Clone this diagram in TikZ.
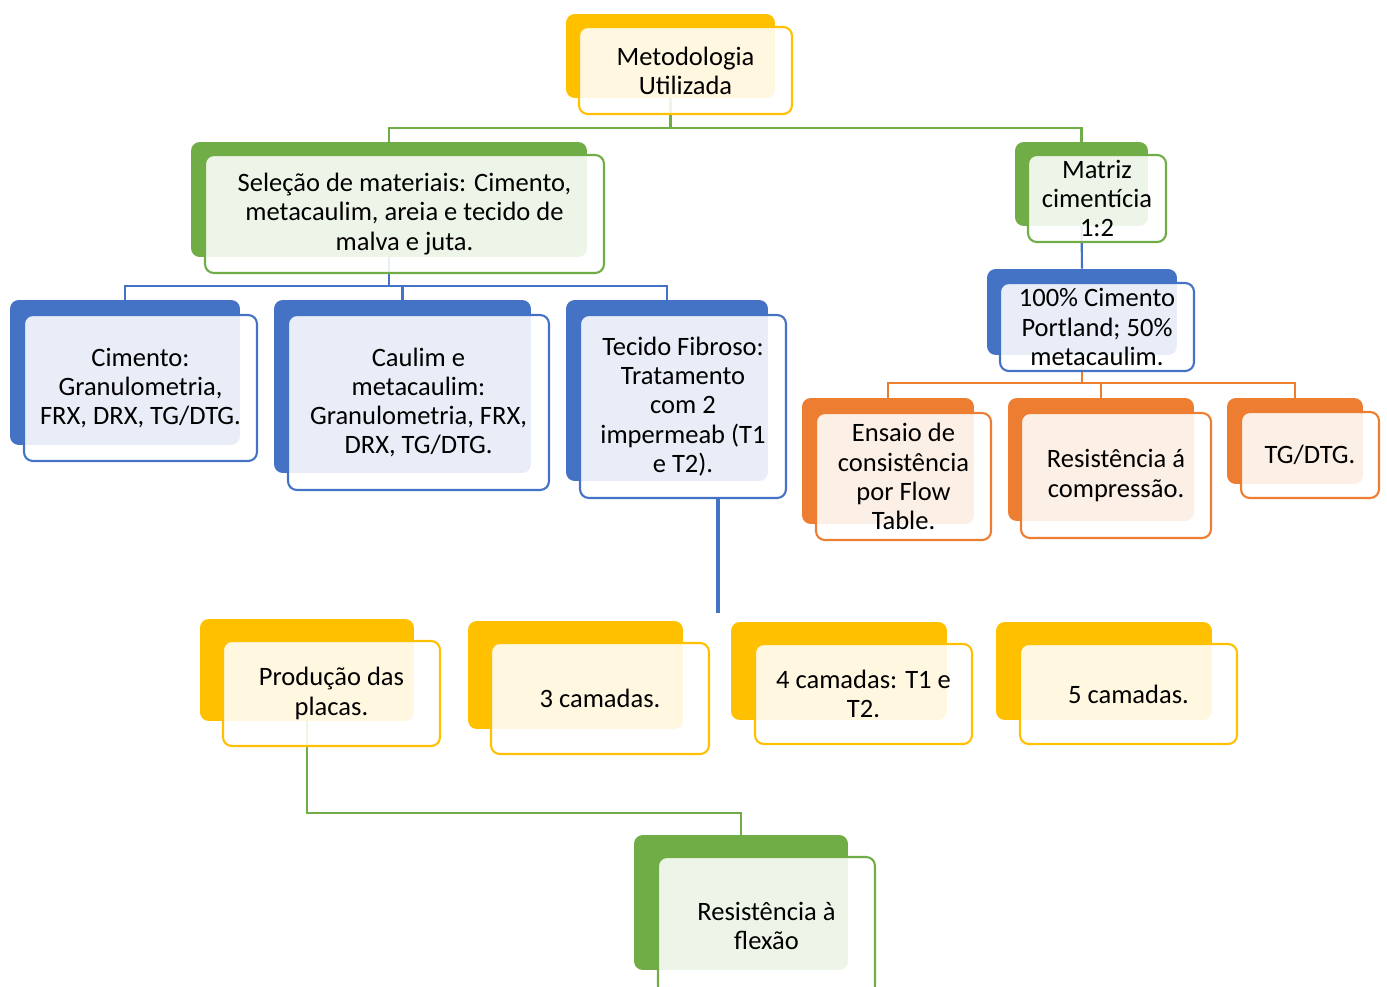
\documentclass[tikz,border=0pt]{standalone}
\usepackage{fontspec}
\setmainfont{Carlito}
\usepackage{tikz}
\usetikzlibrary{backgrounds}

\definecolor{ouro}{HTML}{FFC000}
\definecolor{verde}{HTML}{70AD47}
\definecolor{azul}{HTML}{4472C4}
\definecolor{laranja}{HTML}{ED7D31}

\begin{document}
\begin{tikzpicture}[
    x=0.02cm, y=-0.02cm,
    fundo/.style={fill=#1, rounded corners=5pt, inner sep=0pt},
    frente/.style={draw=#1, line width=1.2pt, fill=white, fill opacity=0.88,
                   text opacity=1, rounded corners=5pt, inner sep=0pt, align=center,
                   font=\fontsize{15.1}{16.6}\selectfont},
    liga/.style={draw=#1, line width=1.2pt}
  ]
    \useasboundingbox (0,0) rectangle (1387,987);

    % nivel 1
    \node[fundo=ouro, minimum width=4.18cm, minimum height=1.68cm] (metB) at (670.5,56) {};
    \node[frente=ouro, minimum width=4.26cm, minimum height=1.74cm] (metF) at (685.5,70.5)
      {Metodologia\\Utilizada};

    % nivel 2
    \node[fundo=verde, minimum width=7.92cm, minimum height=2.30cm] (selB) at (389,199.5) {};
    \node[frente=verde, minimum width=7.98cm, minimum height=2.36cm] (selF) at (404.5,214)
      {Seleção de materiais: Cimento,\\metacaulim, areia e tecido de\\malva e juta.};
    \node[fundo=verde, minimum width=2.66cm, minimum height=1.68cm] (matB) at (1081.5,184) {};
    \node[frente=verde, minimum width=2.76cm, minimum height=1.74cm] (matF) at (1097,198.5)
      {Matriz\\cimentícia\\1:2};

    % materiais
    \node[fundo=azul, minimum width=4.60cm, minimum height=2.90cm] (cimB) at (125,372.5) {};
    \node[frente=azul, minimum width=4.66cm, minimum height=2.92cm] (cimF) at (140.5,388)
      {Cimento:\\Granulometria,\\FRX, DRX, TG/DTG.};
    \node[fundo=azul, minimum width=5.14cm, minimum height=3.46cm] (cauB) at (402.5,386.5) {};
    \node[frente=azul, minimum width=5.22cm, minimum height=3.50cm] (cauF) at (418.5,402.5)
      {Caulim e\\metacaulim:\\Granulometria, FRX,\\DRX, TG/DTG.};
    \node[fundo=azul, minimum width=4.04cm, minimum height=3.62cm] (tecB) at (667,390.5) {};
    \node[frente=azul, minimum width=4.12cm, minimum height=3.66cm] (tecF) at (683,406.5)
      {Tecido Fibroso:\\Tratamento\\com 2\\impermeab (T1\\e T2).};

    % matriz
    \node[fundo=azul, minimum width=3.80cm, minimum height=1.72cm] (porB) at (1082,312) {};
    \node[frente=azul, minimum width=3.88cm, minimum height=1.76cm] (porF) at (1097,327)
      {100\% Cimento\\Portland; 50\%\\metacaulim.};
    \node[fundo=laranja, minimum width=3.44cm, minimum height=2.52cm] (ensB) at (888,461) {};
    \node[frente=laranja, minimum width=3.50cm, minimum height=2.54cm] (ensF) at (903.5,476.5)
      {Ensaio de\\consistência\\por Flow\\Table.};
    \node[fundo=laranja, minimum width=3.72cm, minimum height=2.46cm] (comB) at (1101,459.5) {};
    \node[frente=laranja, minimum width=3.80cm, minimum height=2.50cm] (comF) at (1116,475.5)
      {Resistência á\\compressão.};
    \node[fundo=laranja, minimum width=2.72cm, minimum height=1.72cm] (tgdB) at (1295,441) {};
    \node[frente=laranja, minimum width=2.76cm, minimum height=1.72cm] (tgdF) at (1310,455)
      {TG/DTG.};

    % placas
    \node[fundo=ouro, minimum width=4.28cm, minimum height=2.04cm] (proB) at (307,670) {};
    \node[frente=ouro, minimum width=4.34cm, minimum height=2.10cm] (proF) at (331.5,693.5)
      {Produção das\\placas.};
    \node[fundo=ouro, minimum width=4.30cm, minimum height=2.16cm] (c3B) at (575.5,675) {};
    \node[frente=ouro, minimum width=4.36cm, minimum height=2.22cm] (c3F) at (600,698.5)
      {3 camadas.};
    \node[fundo=ouro, minimum width=4.32cm, minimum height=1.96cm] (c4B) at (839,671) {};
    \node[frente=ouro, minimum width=4.34cm, minimum height=2.00cm] (c4F) at (863.5,694)
      {4 camadas: T1 e\\T2.};
    \node[fundo=ouro, minimum width=4.32cm, minimum height=1.96cm] (c5B) at (1104,671) {};
    \node[frente=ouro, minimum width=4.34cm, minimum height=2.00cm] (c5F) at (1128.5,694)
      {5 camadas.};
    \node[fundo=verde, minimum width=4.28cm, minimum height=2.70cm] (fleB) at (741,902.5) {};
    \node[frente=verde, minimum width=4.34cm, minimum height=2.76cm] (fleF) at (766.5,926)
      {Resistência à\\flexão};

    \coordinate (fimAzul) at (718,613);

    % ligacoes
    \begin{scope}[on background layer]
      \draw[liga=verde] (metB.south) -- ++(0,30) -| (selB.north);
      \draw[liga=verde] (metB.south) -- ++(0,30) -| (matB.north);
      \foreach \filho in {cimB,cauB,tecB}
        \draw[liga=azul] (selB.south) -- ++(0,29) -| (\filho.north);
      \draw[liga=azul] (matB.south) -- (porB.north);
      \foreach \filho in {ensB,comB,tgdB}
        \draw[liga=laranja] (porB.south) -- ++(0,28) -| (\filho.north);
      \draw[liga=verde] (proB.south) -- ++(0,92) -| (fleB.north);
    \end{scope}
    \draw[liga=azul, line width=1.8pt] (tecF.south -| fimAzul) -- (fimAzul);
  \end{tikzpicture}
\end{document}
